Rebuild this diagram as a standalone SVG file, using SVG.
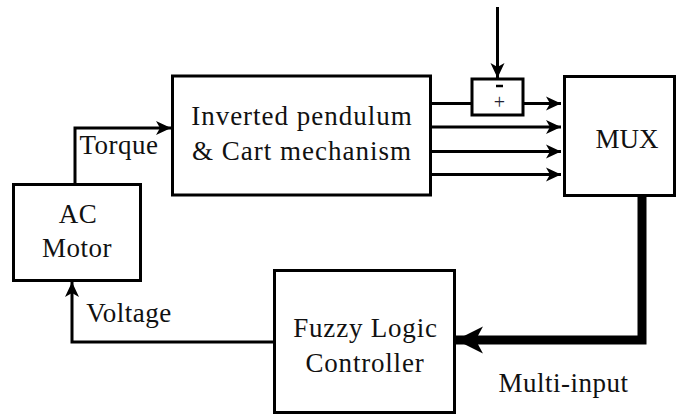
<svg xmlns="http://www.w3.org/2000/svg" width="677" height="415" viewBox="0 0 677 415">
<style>
.box{fill:#fff;stroke:#000;stroke-width:3}
.ln{fill:none;stroke:#000;stroke-width:3}
.thick{fill:none;stroke:#000;stroke-width:9}
</style>
<defs>
<marker id="ah" markerUnits="userSpaceOnUse" markerWidth="16" markerHeight="16" refX="15" refY="7" orient="auto" viewBox="0 0 16 14">
<path d="M0,0 L15,7 L0,14 L4,7 z" fill="#000"/>
</marker>
<marker id="ahb" markerUnits="userSpaceOnUse" markerWidth="28" markerHeight="28" refX="26" refY="13" orient="auto" viewBox="0 0 27 26">
<path d="M0,0 L26,13 L0,26 L7,13 z" fill="#000"/>
</marker>
</defs>
<g id="connectors">
<line class="ln" x1="497.5" y1="7" x2="497.5" y2="78" marker-end="url(#ah)"/>
<line class="ln" x1="431" y1="103.5" x2="472" y2="103.5"/>
<line class="ln" x1="523" y1="103.5" x2="561" y2="103.5" marker-end="url(#ah)"/>
<line class="ln" x1="431" y1="127" x2="561" y2="127" marker-end="url(#ah)"/>
<line class="ln" x1="431" y1="151.5" x2="561" y2="151.5" marker-end="url(#ah)"/>
<line class="ln" x1="431" y1="174.5" x2="561" y2="174.5" marker-end="url(#ah)"/>
<polyline class="ln" points="75,184 75,128 171,128" marker-end="url(#ah)"/>
<polyline class="ln" points="274,342 72,342 72,282" marker-end="url(#ah)"/>
<polyline class="thick" points="642,197 642,340 456,340" marker-end="url(#ahb)"/>
</g>
<g id="sum">
<rect class="box" x="472" y="79" width="51" height="36"/>
<line x1="496" y1="86" x2="503" y2="86" stroke="#000" stroke-width="2.5"/>
<text x="499.5" y="109" text-anchor="middle" font-family="Liberation Serif" font-size="20" fill="#223">+</text>
</g>
<g id="pendulum" font-family="Liberation Serif" font-size="27" fill="#111" letter-spacing="1" text-anchor="middle">
<rect class="box" x="172.5" y="76" width="258" height="119"/>
<text x="302" y="125">Inverted pendulum</text>
<text x="302" y="160">&amp; Cart mechanism</text>
</g>
<g id="mux" font-family="Liberation Serif" font-size="27" fill="#111" text-anchor="middle">
<rect class="box" x="564.5" y="76.5" width="110" height="119"/>
<text x="627" y="148">MUX</text>
</g>
<g id="acmotor" font-family="Liberation Serif" font-size="27" fill="#111" text-anchor="middle" letter-spacing="0.5">
<rect class="box" x="13.5" y="184.5" width="127" height="96"/>
<text x="78" y="223">AC</text>
<text x="77" y="257">Motor</text>
</g>
<g id="fuzzy" font-family="Liberation Serif" font-size="27" fill="#111" text-anchor="middle" letter-spacing="0.8">
<rect class="box" x="274.5" y="270.5" width="180" height="142"/>
<text x="365.5" y="337">Fuzzy Logic</text>
<text x="365" y="372">Controller</text>
</g>
<g id="labels" font-family="Liberation Serif" font-size="27" fill="#111" text-anchor="middle" letter-spacing="0.5">
<text x="119" y="154">Torque</text>
<text x="129" y="322">Voltage</text>
<text x="563.5" y="392">Multi-input</text>
</g>
</svg>
